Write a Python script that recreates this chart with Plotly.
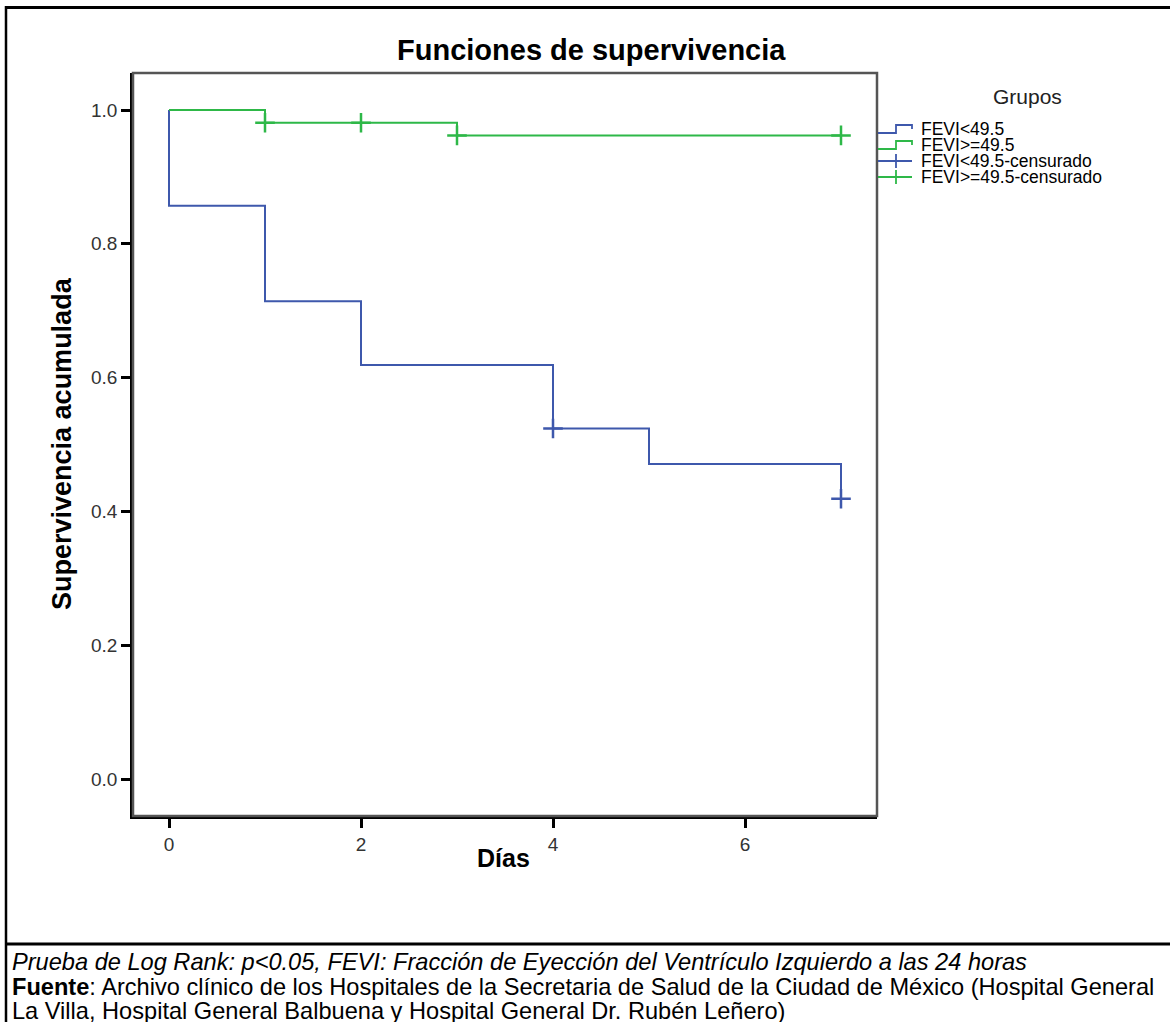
import plotly.graph_objects as go

# ---- data ----
blue_times = [0, 0, 1, 2, 4, 5, 7]
blue_surv = [1.0, 0.857, 0.714, 0.619, 0.524, 0.471, 0.419]
blue_cens_t = [4, 7]
blue_cens_s = [0.524, 0.419]

green_times = [0, 1, 3, 7]
green_surv = [1.0, 0.981, 0.962, 0.962]
green_cens_t = [1, 2, 3, 7]
green_cens_s = [0.981, 0.981, 0.962, 0.962]

legend_labels = ["FEVI<49.5", "FEVI>=49.5", "FEVI<49.5-censurado", "FEVI>=49.5-censurado"]
x_ticks = [0, 2, 4, 6]
y_ticks = [0.0, 0.2, 0.4, 0.6, 0.8, 1.0]
y_tick_text = ["0.0", "0.2", "0.4", "0.6", "0.8", "1.0"]

BLUE = "#3E58AC"
GREEN = "#2EB848"
FONT = "Liberation Sans, Arial, sans-serif"
W, H = 1170, 1022

def px(x):
    return x / W

def py(y):
    return 1 - y / H

fig = go.Figure()
fig.add_trace(go.Scatter(x=blue_times, y=blue_surv, mode="lines", line=dict(color=BLUE, width=2, shape="hv"),
                         name=legend_labels[0], showlegend=False))
fig.add_trace(go.Scatter(x=green_times, y=green_surv, mode="lines", line=dict(color=GREEN, width=2, shape="hv"),
                         name=legend_labels[1], showlegend=False))
fig.add_trace(go.Scatter(x=blue_cens_t, y=blue_cens_s, mode="markers",
                         marker=dict(symbol="cross-thin", size=14, line=dict(color=BLUE, width=2.5)),
                         name=legend_labels[2], showlegend=False))
fig.add_trace(go.Scatter(x=green_cens_t, y=green_cens_s, mode="markers",
                         marker=dict(symbol="cross-thin", size=14, line=dict(color=GREEN, width=2.5)),
                         name=legend_labels[3], showlegend=False))

shapes = []
# outer frame
shapes.append(dict(type="line", xref="paper", yref="paper", x0=px(5), x1=px(1180), y0=py(7.5), y1=py(7.5),
                   line=dict(color="black", width=3)))
shapes.append(dict(type="line", xref="paper", yref="paper", x0=px(6), x1=px(6), y0=py(6), y1=py(1030),
                   line=dict(color="black", width=2.5)))
shapes.append(dict(type="line", xref="paper", yref="paper", x0=px(5), x1=px(1180), y0=py(944), y1=py(944),
                   line=dict(color="black", width=3)))
# plot frame top/right (gray)
shapes.append(dict(type="rect", xref="x domain", yref="y domain", x0=0, x1=1, y0=0, y1=1,
                   line=dict(color="#555555", width=2.5), layer="above"))

# custom legend glyphs
rows = [129, 145, 161, 177]
gx0, gx1, gmid = 878, 912, 896
for i, (r, c) in enumerate(zip(rows, [BLUE, GREEN, BLUE, GREEN])):
    if i < 2:
        path = (f"M {px(gx0)},{py(r+4)} L {px(gmid)},{py(r+4)} L {px(gmid)},{py(r-4)} "
                f"L {px(gx1)},{py(r-4)} L {px(gx1)},{py(r)}")
        shapes.append(dict(type="path", xref="paper", yref="paper", path=path,
                           line=dict(color=c, width=1.8)))
    else:
        shapes.append(dict(type="line", xref="paper", yref="paper", x0=px(gx0), x1=px(gx1), y0=py(r), y1=py(r),
                           line=dict(color=c, width=1.8)))
        shapes.append(dict(type="line", xref="paper", yref="paper", x0=px(gmid), x1=px(gmid), y0=py(r-7), y1=py(r+7),
                           line=dict(color=c, width=1.8)))

annotations = []
for r, lab in zip(rows, legend_labels):
    annotations.append(dict(text=lab, xref="paper", yref="paper", x=px(919), y=py(r), xanchor="left",
                            yanchor="middle", showarrow=False, font=dict(family=FONT, size=17.5, color="black")))
annotations.append(dict(text="Grupos", xref="paper", yref="paper", x=px(1027), y=py(97), xanchor="center",
                        yanchor="middle", showarrow=False, font=dict(family=FONT, size=21, color="#222222")))
# titles
annotations.append(dict(text="Funciones de supervivencia", xref="paper", yref="paper", x=px(591), y=py(50),
                        xanchor="center", yanchor="middle", showarrow=False,
                        font=dict(family=FONT, size=29, color="black", weight="bold")))
annotations.append(dict(text="<b>Supervivencia acumulada</b>", xref="paper", yref="paper", x=px(62), y=py(444),
                        xanchor="center", yanchor="middle", showarrow=False, textangle=-90,
                        font=dict(family=FONT, size=27, color="black")))
annotations.append(dict(text="<b>Días</b>", xref="paper", yref="paper", x=px(503), y=py(858),
                        xanchor="center", yanchor="middle", showarrow=False,
                        font=dict(family=FONT, size=25, color="black")))
# caption
cap = [
    "<i>Prueba de Log Rank: p<0.05, FEVI: Fracción de Eyección del Ventrículo Izquierdo a las 24 horas</i>",
    "<b>Fuente</b>: Archivo clínico de los Hospitales de la Secretaria de Salud de la Ciudad de México (Hospital General",
    "La Villa, Hospital General Balbuena y Hospital General Dr. Rubén Leñero)",
]
for yy, t in zip([962, 987, 1011], cap):
    annotations.append(dict(text=t, xref="paper", yref="paper", x=px(10), y=py(yy), xanchor="left",
                            yanchor="middle", showarrow=False, font=dict(family=FONT, size=23.6, color="black")))

x0p, x1p = 133, 877
y_top, y_bot = 73, 816
fig.update_layout(
    width=W, height=H,
    margin=dict(l=0, r=0, t=0, b=0),
    paper_bgcolor="white", plot_bgcolor="white",
    shapes=shapes, annotations=annotations,
    xaxis=dict(domain=[px(x0p), px(x1p)], range=[-0.375, 7.375], tickvals=x_ticks,
               showgrid=False, zeroline=False, showline=True, linecolor="black", linewidth=2.5,
               ticks="outside", ticklen=9, tickwidth=2.5, tickcolor="black",
               tickfont=dict(family=FONT, size=19, color="#333333")),
    yaxis=dict(domain=[py(y_bot), py(y_top)], range=[-0.0553, 1.0553], tickvals=y_ticks, ticktext=y_tick_text,
               showgrid=False, zeroline=False, showline=True, linecolor="black", linewidth=2.5,
               ticks="outside", ticklen=9, tickwidth=2.5, tickcolor="black",
               tickfont=dict(family=FONT, size=19, color="#333333")),
)

fig.write_html("out.html", config={"displayModeBar": False},
               post_script="document.body.style.margin='0';document.body.style.overflow='hidden';")
